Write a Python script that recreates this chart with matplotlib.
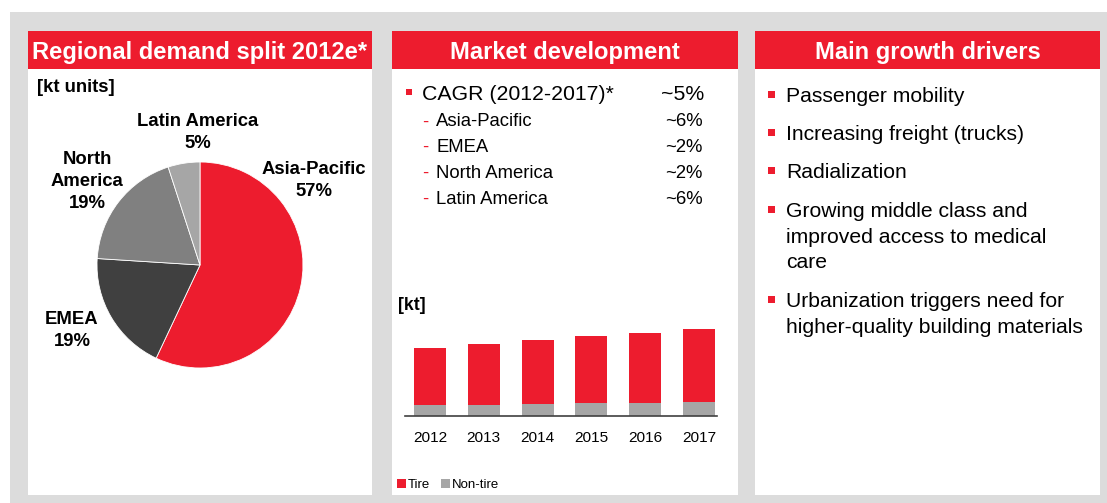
import matplotlib.pyplot as plt
from matplotlib.patches import Rectangle

plt.rcParams['font.family'] = ['Liberation Sans', 'DejaVu Sans']

W, H = 1107, 503
RED = '#ED1C2E'
GRAY_BG = '#DCDCDC'

# regional demand split (pie)
region_labels = ['Asia-Pacific\n57%', 'EMEA\n19%', 'North\nAmerica\n19%', 'Latin America\n5%']
shares = [57, 19, 19, 5]
pie_colors = [RED, '#404040', '#808080', '#A6A6A6']

# market development
cagr_label = 'CAGR (2012-2017)*'
cagr_value = '~5%'
cagr_regions = ['Asia-Pacific', 'EMEA', 'North America', 'Latin America']
cagr_values = ['~6%', '~2%', '~2%', '~6%']

years = ['2012', '2013', '2014', '2015', '2016', '2017']
tire = [57, 61, 64, 67, 70, 73]
non_tire = [11, 11, 12, 13, 13, 14]

# growth drivers
drivers = ['Passenger mobility',
           'Increasing freight (trucks)',
           'Radialization',
           'Growing middle class and\nimproved access to medical\ncare',
           'Urbanization triggers need for\nhigher-quality building materials']

fig = plt.figure(figsize=(W / 100, H / 100), dpi=100)
fig.patch.set_facecolor('white')


def fx(x):
    return x / W


def fy(y):
    return 1 - y / H


def box(x0, y0, x1, y1, color, z=-1):
    fig.add_artist(Rectangle((fx(x0), fy(y1)), (x1 - x0) / W, (y1 - y0) / H,
                             transform=fig.transFigure, facecolor=color,
                             edgecolor='none', zorder=z))


def txt(x, y, s, **kw):
    kw.setdefault('va', 'center_baseline')
    kw.setdefault('color', 'black')
    fig.text(fx(x), fy(y), s, **kw)


def lines(x, y, s, step, **kw):
    for i, ln in enumerate(s.split('\n')):
        txt(x, y + i * step, ln, **kw)


# background and panels
box(10, 12, W, H, GRAY_BG, z=-3)
panels = [(28, 372, 'Regional demand split 2012e*'),
          (392, 738, 'Market development'),
          (755, 1100, 'Main growth drivers')]
for x0, x1, title in panels:
    box(x0, 31, x1, 495, 'white', z=-2)
    box(x0, 31, x1, 69, RED, z=-1)
    txt((x0 + x1) / 2, 50, title, ha='center', color='white',
        fontsize=17.1, fontweight='bold')

# ---- pie ----
txt(37, 86, '[kt units]', fontsize=13.3, fontweight='bold')
r = 103
ax_pie = fig.add_axes([fx(200 - r), fy(265 + r), 2 * r / W, 2 * r / H])
ax_pie.pie(shares, colors=pie_colors, startangle=90, counterclock=False,
           wedgeprops=dict(edgecolor='white', linewidth=0.6))
ax_pie.set_xlim(-1, 1)
ax_pie.set_ylim(-1, 1)
ax_pie.axis('off')

label_pos = [(314, 168), (72, 318), (87, 157), (198, 120)]
for (lx, ly), lab in zip(label_pos, region_labels):
    lines(lx, ly, lab, 22, ha='center', fontsize=13.3, fontweight='bold')

# ---- market development ----
box(406, 89, 412, 95, RED)
txt(422, 93, cagr_label, fontsize=15.3)
txt(704, 93, cagr_value, ha='right', fontsize=15.3)
y = 120
for reg, val in zip(cagr_regions, cagr_values):
    txt(422, y, '-', fontsize=13.3, color=RED)
    txt(436, y, reg, fontsize=13.3)
    txt(703, y, val, ha='right', fontsize=13.3)
    y += 25.7

txt(398, 303, '[kt]', fontsize=12.8, fontweight='bold')

ax_bar = fig.add_axes([fx(405), fy(416), (717 - 405) / W, 96 / H])
ax_bar.set_facecolor('none')
xs = range(len(years))
bn = ax_bar.bar(xs, non_tire, width=0.595, color='#A6A6A6', label='Non-tire')
bt = ax_bar.bar(xs, tire, bottom=non_tire, width=0.595, color=RED, label='Tire')
ax_bar.set_xlim(-0.465, 5.335)
ax_bar.set_ylim(0, 96)
ax_bar.set_xticks(list(xs), years)
ax_bar.tick_params(axis='x', length=0, pad=10.5, labelsize=11.1)
ax_bar.set_yticks([])
for s in ['top', 'right', 'left']:
    ax_bar.spines[s].set_visible(False)
ax_bar.spines['bottom'].set_color('#404040')
ax_bar.spines['bottom'].set_linewidth(1.2)

fig.legend([bt, bn], ['Tire', 'Non-tire'], loc='center left',
           bbox_to_anchor=(fx(397), fy(485)), ncol=2, frameon=False,
           fontsize=9.5, handlelength=0.68, handleheight=0.68,
           handletextpad=0.15, columnspacing=0.8, borderpad=0,
           borderaxespad=0)

# ---- growth drivers ----
y = 94
for item in drivers:
    box(768, y - 3.5, 775, y + 3.5, RED)
    parts = item.split('\n')
    lines(786, y, item, 25.7, fontsize=15.2)
    y += (len(parts) - 1) * 25.7 + 38.5

fig.savefig('out.png', dpi=100)
